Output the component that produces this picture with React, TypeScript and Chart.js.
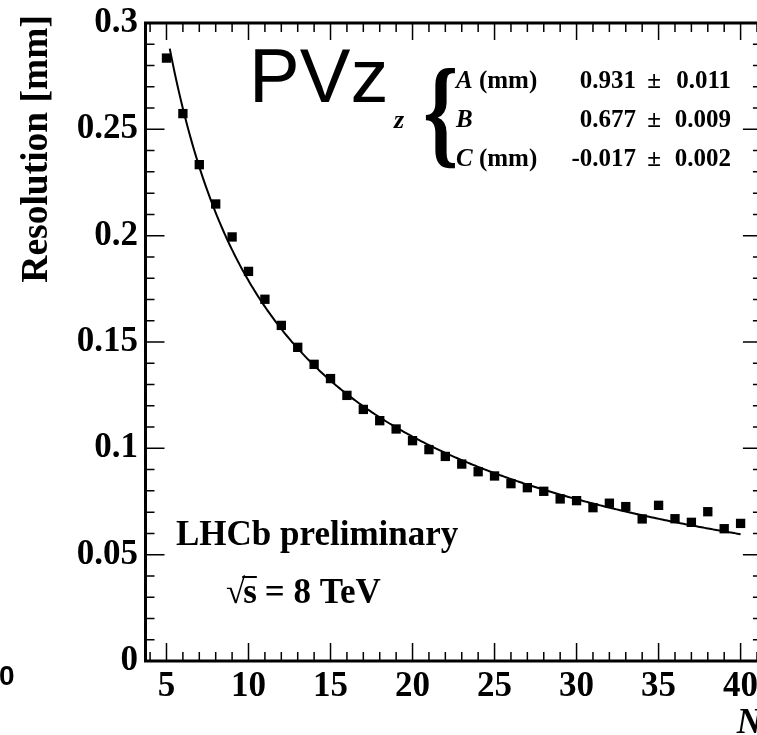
import React, { useEffect, useRef } from "react";
import { Chart, registerables } from "chart.js";

Chart.register(...registerables);

// Number of tracks in the primary vertex
const trackCounts = [
  5, 6, 7, 8, 9, 10, 11, 12, 13, 14, 15, 16, 17, 18, 19, 20, 21, 22,
  23, 24, 25, 26, 27, 28, 29, 30, 31, 32, 33, 34, 35, 36, 37, 38, 39, 40,
];

// PV z resolution [mm] for each track multiplicity
const resolutionZ = [
  0.2835, 0.2574, 0.2334, 0.2149, 0.1994, 0.1832, 0.1701, 0.1578, 0.1475,
  0.1395, 0.1328, 0.1249, 0.1183, 0.113, 0.1091, 0.1036, 0.0994, 0.0962,
  0.0926, 0.089, 0.087, 0.0834, 0.0815, 0.0798, 0.0762, 0.0754, 0.0721,
  0.0742, 0.0726, 0.0668, 0.0732, 0.0669, 0.0652, 0.0702, 0.0622, 0.0647,
];

// Fit model sigma(N) = A / N^B + C
const fitNames = ["A", "B", "C"];
const fitUnits = [" (mm)", "", " (mm)"];
const fitValues = [0.931, 0.677, -0.017];
const fitErrors = [0.011, 0.009, 0.002];
const fitRange = [5.2, 40];

// Axis ranges and labelled ticks
const xRange = [3.69, 41.0];
const xFrameEnd = 41.3;
const yRange = [0, 0.3];
const xTickValues = [5, 10, 15, 20, 25, 30, 35, 40];
const yTickValues = [0, 0.05, 0.1, 0.15, 0.2, 0.25, 0.3];

const SERIF = "'Liberation Serif', 'Times New Roman', serif";
const SANS = "'Liberation Sans', Arial, sans-serif";

function fitCurve() {
  const pts: { x: number; y: number }[] = [];
  const [a, b, c] = fitValues;
  const steps = 350;
  for (let i = 0; i <= steps; i++) {
    const n = fitRange[0] + ((fitRange[1] - fitRange[0]) * i) / steps;
    pts.push({ x: n, y: a / Math.pow(n, b) + c });
  }
  return pts;
}

const framePlugin = {
  id: "rootFrame",
  afterDraw(chart: any) {
    const { ctx, chartArea } = chart;
    const xs = chart.scales.x;
    const ys = chart.scales.y;
    const left = chartArea.left + 0.5;
    const top = chartArea.top;
    const bottom = chartArea.bottom;
    const right = xs.getPixelForValue(xFrameEnd);

    ctx.save();
    ctx.strokeStyle = "#000";
    ctx.fillStyle = "#000";

    // tick marks on all four sides
    ctx.lineWidth = 1.5;
    ctx.beginPath();
    for (let n = 4; n <= 41; n++) {
      const px = xs.getPixelForValue(n);
      const major = n % 5 === 0;
      const lb = major ? 18 : 9;
      const lt = major ? 17 : 9;
      ctx.moveTo(px, bottom);
      ctx.lineTo(px, bottom - lb);
      ctx.moveTo(px, top);
      ctx.lineTo(px, top + lt);
    }
    for (let i = 1; i < 30; i++) {
      const py = ys.getPixelForValue(i / 100);
      const len = i % 5 === 0 ? 19 : 9;
      ctx.moveTo(left, py);
      ctx.lineTo(left + len, py);
      ctx.moveTo(right, py);
      ctx.lineTo(right - len, py);
    }
    ctx.stroke();

    // frame
    ctx.lineWidth = 3;
    ctx.strokeRect(left, top, right - left, bottom - top);

    // axis titles
    ctx.textBaseline = "alphabetic";
    ctx.save();
    ctx.translate(47, 15);
    ctx.rotate(-Math.PI / 2);
    ctx.textAlign = "right";
    ctx.font = `bold 37.5px ${SERIF}`;
    ctx.fillText("Resolution [mm]", 0, 0);
    ctx.restore();

    ctx.textAlign = "right";
    ctx.font = `italic bold 35px ${SERIF}`;
    ctx.fillText("N", right, 733);

    ctx.textAlign = "left";
    ctx.font = `bold 28px ${SANS}`;
    ctx.fillText("0", -1, 685);

    // title
    ctx.font = `76px ${SANS}`;
    ctx.fillText("PVz", 249, 102);

    // fit parameter box
    ctx.font = `italic bold 26px ${SERIF}`;
    ctx.fillText("z", 394, 128);

    ctx.save();
    ctx.translate(423, 152);
    ctx.scale(0.75, 1);
    ctx.font = `bold 120px ${SERIF}`;
    ctx.fillText("{", 0, 0);
    ctx.restore();

    const rowBase = [88, 127, 166];
    for (let i = 0; i < 3; i++) {
      const y = rowBase[i];
      ctx.textAlign = "left";
      ctx.font = `italic bold 25px ${SERIF}`;
      ctx.fillText(fitNames[i], 456, y);
      const w = ctx.measureText(fitNames[i]).width;
      ctx.font = `bold 25px ${SERIF}`;
      ctx.fillText(fitUnits[i], 456 + w, y);
      ctx.textAlign = "right";
      ctx.fillText(fitValues[i].toFixed(3), 636, y);
      ctx.textAlign = "center";
      ctx.fillText("\u00b1", 654, y);
      ctx.textAlign = "right";
      ctx.fillText(fitErrors[i].toFixed(3), 731, y);
    }

    // experiment labels
    ctx.textAlign = "left";
    ctx.font = `bold 35px ${SERIF}`;
    ctx.fillText("LHCb preliminary", 176, 545);

    // sqrt(s) = 8 TeV
    ctx.fillText("\u221a", 226, 603);
    const rootW = ctx.measureText("\u221a").width;
    const sX = 226 + rootW - 2;
    ctx.fillText("s", sX, 603);
    const sW = ctx.measureText("s").width;
    ctx.lineWidth = 2;
    ctx.beginPath();
    ctx.moveTo(sX - 1, 577);
    ctx.lineTo(sX + sW, 577);
    ctx.stroke();
    ctx.fillText("= 8 TeV", sX + sW + 8, 603);

    ctx.restore();
  },
};

export default function App() {
  const canvasRef = useRef<HTMLCanvasElement | null>(null);

  useEffect(() => {
    const canvas = canvasRef.current;
    if (!canvas) return;

    const points = trackCounts.map((n, i) => ({ x: n, y: resolutionZ[i] }));
    const tickFont = { family: SERIF, size: 35, weight: "bold" as const };

    const chart = new Chart(canvas, {
      type: "scatter",
      data: {
        datasets: [
          {
            type: "line",
            data: fitCurve(),
            borderColor: "#000",
            borderWidth: 2,
            pointRadius: 0,
            tension: 0,
            fill: false,
          } as any,
          {
            data: points,
            pointStyle: "rect",
            pointRadius: 6.6,
            backgroundColor: "#000",
            borderWidth: 0,
          },
        ],
      },
      options: {
        animation: false,
        responsive: false,
        events: [],
        layout: { autoPadding: false, padding: { top: 23, left: 0, right: 0, bottom: 0 } },
        plugins: {
          legend: { display: false },
          tooltip: { enabled: false },
        },
        scales: {
          x: {
            type: "linear",
            min: xRange[0],
            max: xRange[1],
            grid: { display: false, drawTicks: false },
            border: { display: false },
            afterFit: (s: any) => {
              s.height = 74;
              s.paddingLeft = 0;
              s.paddingRight = 0;
            },
            afterBuildTicks: (s: any) => {
              s.ticks = xTickValues.map((v) => ({ value: v }));
            },
            ticks: {
              color: "#000",
              font: tickFont,
              padding: 5,
              maxRotation: 0,
              autoSkip: false,
              callback: (v: any) => String(v),
            },
          },
          y: {
            type: "linear",
            min: yRange[0],
            max: yRange[1],
            grid: { display: false, drawTicks: false },
            border: { display: false },
            afterFit: (s: any) => {
              s.width = 145;
              s.paddingTop = 0;
              s.paddingBottom = 0;
            },
            afterBuildTicks: (s: any) => {
              s.ticks = yTickValues.map((v) => ({ value: v }));
            },
            ticks: {
              color: "#000",
              font: tickFont,
              padding: 7,
              autoSkip: false,
              callback: (v: any) => String(v),
            },
          },
        },
      },
      plugins: [framePlugin],
    });

    return () => chart.destroy();
  }, []);

  return (
    <div style={{ position: "fixed", left: 0, top: 0, width: 757, height: 735, background: "#fff" }}>
      <canvas ref={canvasRef} width={757} height={735} style={{ display: "block" }} />
    </div>
  );
}
